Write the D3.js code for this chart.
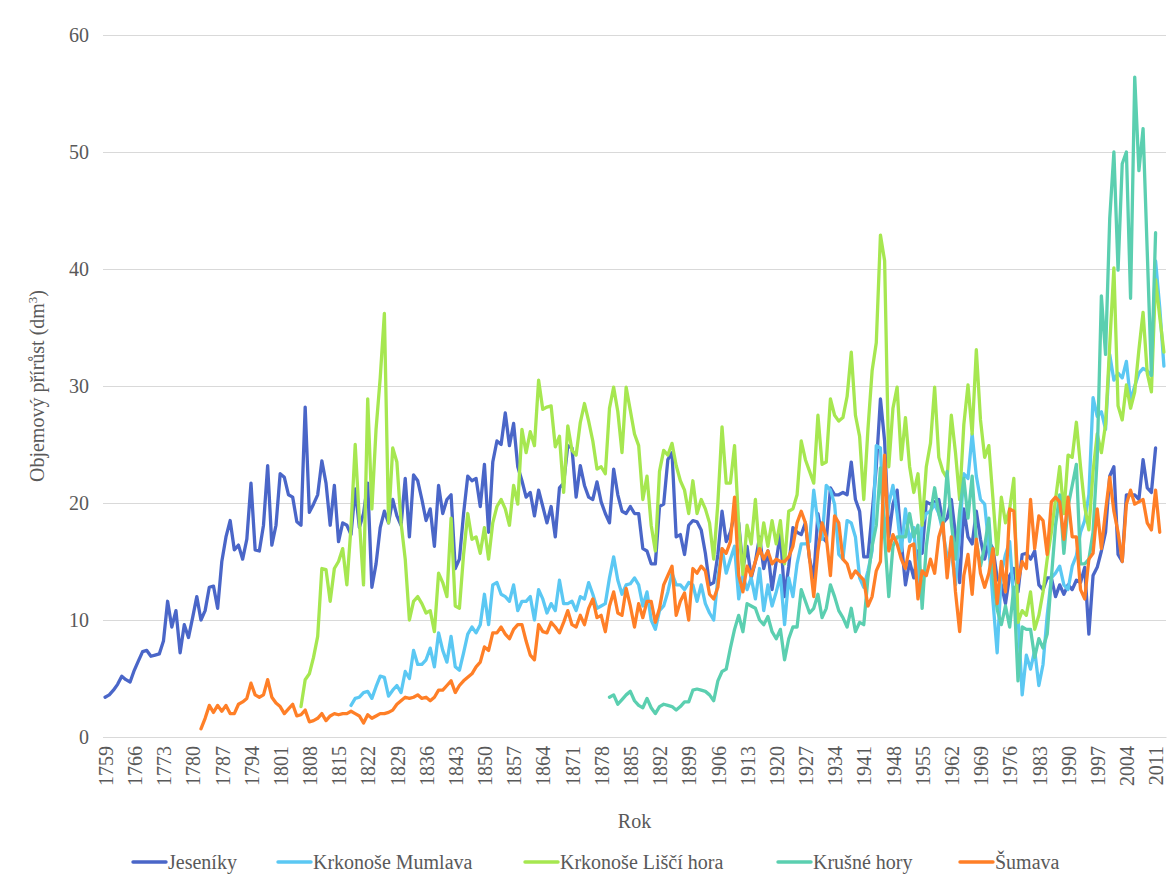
<!DOCTYPE html>
<html><head><meta charset="utf-8">
<script src="https://cdn.jsdelivr.net/npm/d3@7"></script>
<style>
body{margin:0;background:#fff;}
text{font-family:"Liberation Serif","Times New Roman",serif;}
</style>
</head><body>
<svg id="chart" width="1170" height="883"></svg>
<script>
// ---------------- DATA ----------------
const firstYear = 1759;
const lastYear = 2013;

const jesenikyStart = 1759;
const jesenikyValues = [
3.4,3.6,4.0,4.5,5.2,4.9,4.7,5.7,6.5,7.3,
7.4,6.9,7.0,7.1,8.2,11.6,9.4,10.8,7.2,9.6,
8.5,10.2,12.0,10.0,10.8,12.8,12.9,11.0,15.0,17.1,
18.5,16.0,16.4,15.2,16.9,21.7,16.0,15.9,18.1,23.2,
16.4,18.1,22.5,22.2,20.7,20.5,18.4,18.1,28.2,
19.2,19.9,20.7,23.6,21.7,18.1,21.5,16.7,18.3,18.1,
17.3,21.2,17.9,19.1,21.7,12.8,14.8,17.9,19.3,18.3,
20.3,18.9,18.1,22.1,17.1,22.4,21.9,20.3,18.5,19.5,
16.3,21.5,19.1,20.3,20.7,14.4,15.2,19.1,22.3,21.9,
22.1,19.7,23.3,17.5,23.5,25.3,25.0,
27.7,24.9,26.8,23.1,21.9,20.5,20.9,18.9,21.1,19.7,
18.3,19.7,17.1,21.3,21.7,24.9,24.7,20.5,23.2,21.5,
20.5,20.3,21.8,20.1,19.1,18.3,22.9,20.7,19.3,19.1,
19.7,19.1,19.1,16.1,15.9,14.8,14.8,19.7,19.9,23.7,
24.3,17.1,17.3,15.6,
18.1,18.5,18.4,17.7,15.7,13.0,13.2,15.6,19.3,16.7,
17.5,19.1,18.3,14.4,16.3,13.6,15.0,17.1,14.4,15.9,
12.6,15.0,17.5,12.0,14.6,17.9,17.5,17.3,18.3,15.2,
13.6,19.1,17.1,16.7,21.3,20.7,20.7,20.9,20.7,23.5,
20.3,19.3,15.4,15.4,19.1,23.1,28.9,25.3,17.1,19.9,
21.1,
16.7,13.0,15.0,13.6,15.9,15.7,20.1,19.9,20.1,20.3,
18.3,18.7,20.3,17.3,13.2,19.5,17.1,16.5,19.3,16.9,
15.2,16.7,16.1,13.6,13.0,11.4,13.8,14.4,12.4,15.6,
15.7,15.2,15.9,13.0,12.6,13.6,13.6,12.0,13.0,12.2,
13.0,12.6,13.4,13.2,14.5,8.8,13.8,14.5,15.9,17.5,
22.3,23.1,15.6,15.0,20.7,20.7,20.7,20.3,23.7,21.3,
20.9,24.7
];

const mumlavaStart = 1818;
const mumlavaValues = [
2.7,3.3,3.4,3.8,3.9,3.3,4.3,5.2,5.1,3.5,
4.0,4.4,3.8,5.6,5.0,7.4,6.2,6.2,6.6,7.6,
6.0,8.9,7.4,6.4,8.6,6.0,5.7,7.2,8.8,9.4,
8.9,9.6,12.2,9.6,13.0,13.2,12.2,
12.0,11.6,13.0,10.8,11.6,11.6,12.0,10.0,12.6,11.8,
10.6,11.4,10.8,13.4,11.4,11.4,11.6,10.8,12.0,11.8,
13.2,12.2,11.0,11.2,11.4,13.6,15.4,13.4,12.2,13.0,
13.1,13.6,13.0,11.2,12.4,10.0,9.2,10.8,11.2,12.4,
14.0,13.0,13.0,12.6,
13.2,13.0,11.6,13.0,11.4,10.6,10.0,13.6,16.1,14.0,
15.2,16.3,11.8,13.8,12.6,13.6,11.8,14.4,10.8,13.0,
11.2,12.4,13.8,9.6,13.6,12.0,14.8,16.5,16.5,16.7,
21.1,18.3,16.9,21.5,21.1,19.9,15.6,15.2,18.5,18.3,
17.1,13.6,12.8,14.2,15.9,24.9,24.7,17.1,19.9,21.5,
19.1,
15.9,19.5,16.7,17.9,13.0,18.3,19.1,19.3,19.9,19.1,
17.5,15.4,15.9,13.0,17.5,22.5,22.1,25.9,22.3,20.3,
19.9,16.3,11.6,7.2,14.0,15.6,16.7,11.6,10.4,3.6,
7.0,5.8,7.4,4.4,6.2,10.4,13.6,14.0,14.6,13.0,
12.6,14.6,15.5,17.5,18.5,20.7,29.0,27.4,27.8,26.3,
32.7,30.5,31.1,30.7,32.1,28.7,30.0,31.1,31.5,31.3,
30.9,40.7,36.7,31.7
];

const liscihoraStart = 1806;
const liscihoraValues = [
2.6,4.9,5.4,6.8,8.6,14.4,14.3,11.6,14.4,15.0,
16.1,13.0,18.0,25.0,18.5,13.0,28.9,19.5,26.3,30.7,
36.2,18.3,24.7,23.5,18.3,15.2,10.0,11.6,12.0,11.4,
10.6,10.8,9.0,14.0,13.2,12.0,18.7,11.2,11.0,15.6,
19.1,16.9,17.1,15.7,17.9,15.2,18.3,19.7,20.3,
19.5,18.1,21.5,19.9,26.3,24.3,26.1,24.9,30.5,28.0,
28.2,28.3,24.8,25.7,20.9,26.6,24.5,24.1,26.9,28.5,
27.0,25.3,22.9,23.1,22.5,28.1,29.9,27.8,24.3,29.9,
27.9,25.9,24.9,20.3,22.3,18.1,15.9,22.7,24.5,24.1,
25.1,23.2,21.9,21.1,
19.1,21.9,19.1,20.3,19.5,18.3,15.2,20.0,26.5,21.7,
21.7,24.9,18.1,13.9,18.1,16.5,20.3,15.7,18.3,16.3,
18.5,16.5,18.5,14.8,19.3,19.5,20.7,25.3,23.7,22.7,
21.7,27.5,23.3,23.5,28.9,27.5,27.0,27.3,29.1,32.9,
27.5,25.7,20.3,26.3,31.3,33.7,42.9,40.7,23.1,28.1,
29.9,
23.7,27.3,23.1,20.9,22.5,18.1,23.1,25.1,29.9,23.9,
22.7,22.1,27.5,24.3,20.3,26.7,30.1,25.9,33.1,27.1,
23.9,24.9,20.3,15.6,20.5,18.3,19.5,22.1,9.8,10.8,
10.4,12.4,9.2,10.4,12.4,15.2,17.5,20.3,23.1,19.1,
24.1,23.9,26.9,23.1,19.7,17.7,22.7,25.9,24.3,26.7,
33.5,40.1,28.3,27.1,30.1,28.1,29.5,33.1,36.3,31.1,
29.5,39.1,35.9,32.9
];

const krusneStart = 1880;
const krusneValues = [
3.4,3.6,2.8,3.2,3.6,3.9,3.1,2.7,2.5,3.3,
2.5,2.0,2.6,2.8,2.7,2.6,2.3,2.6,3.0,
3.0,4.0,4.1,4.0,3.9,3.6,3.1,4.8,5.6,5.8,
7.6,9.2,10.4,9.0,11.4,11.2,11.0,10.0,9.6,10.3,
9.0,8.4,9.2,6.6,8.4,9.4,9.4,12.6,11.6,10.6,
11.0,12.2,10.2,11.0,13.0,12.0,10.8,10.2,9.4,11.0,
9.0,9.8,9.6,13.6,16.3,18.1,23.0,17.1,12.0,16.3,
17.1,
17.1,17.1,19.1,17.1,18.1,11.0,16.3,19.1,21.3,19.1,
17.9,22.7,18.3,15.2,19.3,22.1,18.7,22.3,16.7,14.6,
16.3,18.7,13.6,10.9,9.6,11.2,9.4,12.8,4.8,9.4,
9.2,9.2,6.8,8.4,7.6,8.8,13.6,18.1,20.7,15.7,
19.7,21.5,23.3,14.8,14.8,15.2,17.5,23.9,37.7,32.7,
44.3,50.0,39.9,49.0,50.0,37.5,56.4,48.4,52.0,41.5,
30.9,43.1
];

const sumavaStart = 1782;
const sumavaValues = [
0.7,1.6,2.7,2.1,2.7,2.2,2.7,2.0,2.0,2.8,
3.0,3.3,4.6,3.6,3.4,3.6,4.9,3.4,2.9,2.6,
2.0,2.4,2.8,1.8,1.9,2.3,
1.3,1.4,1.6,2.0,1.4,1.8,2.0,1.9,2.0,2.0,
2.2,2.0,1.8,1.2,1.9,1.6,1.8,2.0,2.0,2.1,
2.3,2.8,3.1,3.4,3.3,3.4,3.6,3.3,3.4,3.1,
3.4,4.0,4.0,4.4,4.8,3.8,4.4,4.8,5.1,5.4,
6.0,6.4,7.7,7.4,8.9,8.9,9.4,
8.8,8.4,9.2,9.6,9.6,8.2,7.0,6.6,9.6,9.0,
8.9,9.8,9.4,8.9,9.8,10.8,9.6,9.4,10.4,9.6,
11.0,11.8,10.2,10.4,9.0,11.2,12.4,10.6,10.4,12.7,
11.2,9.4,11.4,10.2,11.6,11.6,9.8,11.0,13.0,13.8,
14.6,10.4,11.6,12.3,
10.0,14.4,14.0,14.6,14.2,12.2,11.8,12.8,16.1,15.7,
16.7,20.5,13.8,12.4,14.6,13.8,15.0,16.1,15.2,15.9,
14.8,15.2,15.0,15.0,15.4,16.3,18.3,19.3,18.3,15.2,
12.0,15.9,18.3,17.1,13.8,18.9,18.3,15.2,14.8,13.6,
14.2,13.8,13.4,11.2,12.0,14.2,15.0,24.1,15.9,17.3,
16.5,
15.2,14.4,16.3,16.5,11.8,14.2,13.8,15.2,14.0,17.1,
18.3,13.6,17.1,12.4,9.0,13.8,15.6,12.2,16.9,14.0,
12.8,14.0,16.1,11.4,15.0,12.4,19.5,19.3,13.2,15.0,
14.4,20.3,16.1,18.9,18.5,15.6,20.1,20.5,20.1,16.9,
20.5,17.1,17.1,12.6,11.8,15.2,15.7,19.5,16.1,19.3,
22.2,19.3,17.5,15.0,19.9,21.1,19.9,20.1,20.3,18.3,
17.7,21.1,17.5
];

const seriesNames = ["Jeseníky","Krkonoše Mumlava","Krkonoše Liščí hora","Krušné hory","Šumava"];
const seriesStarts = [jesenikyStart, mumlavaStart, liscihoraStart, krusneStart, sumavaStart];
const seriesValues = [jesenikyValues, mumlavaValues, liscihoraValues, krusneValues, sumavaValues];
const yTickValues = [0,10,20,30,40,50,60];
const xTickValues = d3.range(1759, 2012, 7);

// ---------------- STYLE / LAYOUT ----------------
const FONT = '"Liberation Serif","Times New Roman",serif';
const colors = ["#4a66c8","#5bc8f3","#a6e750","#5bcfb0","#ff7f27"];
const margin = {left:103, right:1166, top:35, bottom:737};

const svg = d3.select("#chart");
const years = d3.range(firstYear, lastYear + 1);

const x = d3.scalePoint().domain(years).range([margin.left, margin.right]).padding(0.5);
const y = d3.scaleLinear().domain([0, 60]).range([margin.bottom, margin.top]);

// gridlines + y axis
const yAxis = d3.axisLeft(y).tickValues(yTickValues).tickSize(-(margin.right - margin.left)).tickPadding(14);
const gy = svg.append("g").attr("transform", `translate(${margin.left},0)`).call(yAxis);
gy.select(".domain").remove();
gy.selectAll(".tick line").attr("stroke", "#d9d9d9").attr("stroke-width", 1.2);
gy.selectAll(".tick text").attr("fill", "#595959").attr("font-family", FONT).attr("font-size", 20);

// x axis
const xAxis = d3.axisBottom(x).tickValues(xTickValues).tickSize(0).tickFormat(d => String(d));
const gx = svg.append("g").attr("transform", `translate(0,${margin.bottom})`).call(xAxis);
gx.select(".domain").attr("stroke", "#d9d9d9").attr("stroke-width", 1.2);
gx.selectAll(".tick text")
  .attr("transform", "rotate(-90)")
  .attr("x", -9).attr("y", 0).attr("dy", "0.36em")
  .attr("text-anchor", "end")
  .attr("fill", "#595959").attr("font-family", FONT).attr("font-size", 20);

// lines
const line = d3.line().x(d => x(d.year)).y(d => y(d.value));
seriesValues.forEach((vals, i) => {
  const data = vals.map((v, j) => ({year: seriesStarts[i] + j, value: v}));
  svg.append("path").datum(data)
    .attr("fill", "none").attr("stroke", colors[i]).attr("stroke-width", 3.3)
    .attr("stroke-linejoin", "round").attr("stroke-linecap", "round")
    .attr("d", line);
});

// axis titles
const yTitle = svg.append("text")
  .attr("transform", `translate(44,${(margin.top + margin.bottom)/2}) rotate(-90)`)
  .attr("text-anchor", "middle").attr("fill", "#595959")
  .attr("font-family", FONT).attr("font-size", 20);
yTitle.append("tspan").text("Objemový přírůst (dm");
yTitle.append("tspan").text("3").attr("baseline-shift", "super").attr("font-size", 13);
yTitle.append("tspan").text(")");

svg.append("text").attr("x", (margin.left + margin.right)/2).attr("y", 828)
  .attr("text-anchor", "middle").attr("fill", "#595959")
  .attr("font-family", FONT).attr("font-size", 20).text("Rok");

// legend
const legendX = [133, 278, 525, 778, 960];
seriesNames.forEach((name, i) => {
  const g = svg.append("g").attr("transform", `translate(${legendX[i]},862)`);
  g.append("line").attr("x1", 0).attr("x2", 33).attr("y1", 0).attr("y2", 0)
    .attr("stroke", colors[i]).attr("stroke-width", 3.4).attr("stroke-linecap", "round");
  g.append("text").attr("x", 35).attr("y", 0).attr("dy", "0.35em")
    .attr("fill", "#595959").attr("font-family", FONT).attr("font-size", 20).text(name);
});
</script>
</body></html>
